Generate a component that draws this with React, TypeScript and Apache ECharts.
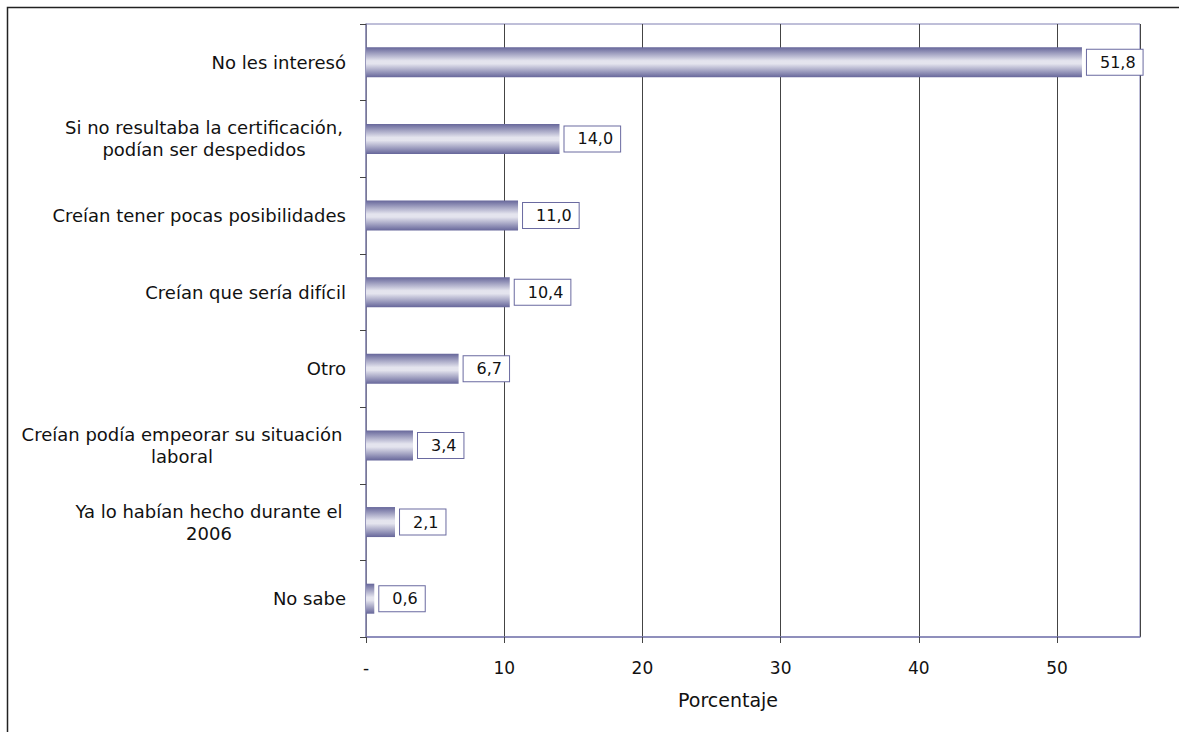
import React, { useEffect, useRef } from "react";
import * as echarts from "echarts";

const categories: string[][] = [
  ["No les interesó"],
  ["Si no resultaba la certificación,", "podían ser despedidos"],
  ["Creían tener pocas posibilidades"],
  ["Creían que sería difícil"],
  ["Otro"],
  ["Creían podía empeorar su situación", "laboral"],
  ["Ya lo habían hecho durante el", "2006"],
  ["No sabe"],
];
const values: number[] = [51.8, 14.0, 11.0, 10.4, 6.7, 3.4, 2.1, 0.6];
const xTickLabels: Record<number, string> = { 0: "-", 10: "10", 20: "20", 30: "30", 40: "40", 50: "50" };
const axisName = "Porcentaje";

// layout only: horizontal centre (px from axis, leftwards) of wrapped labels
const wrappedLabelOffset: Record<number, number> = { 1: 142, 5: 164, 6: 137 };

const FONT = "DejaVu Sans";
const CAT_SIZE = 18;

export default function App() {
  const ref = useRef<HTMLDivElement>(null);
  useEffect(() => {
    document.body.style.margin = "0";
    const chart = echarts.init(ref.current!, undefined, { renderer: "svg" });
    const yData = categories.map((lines, i) => {
      const value = lines.join("\n");
      const off = wrappedLabelOffset[i];
      if (off === undefined) return value;
      return {
        value,
        textStyle: { align: "center", padding: [0, off * 2, 0, 0] },
      };
    });
    chart.setOption({
      animation: false,
      backgroundColor: "#ffffff",
      textStyle: { fontFamily: FONT },
      graphic: [
        {
          type: "rect",
          shape: { x: 7.5, y: 7.5, width: 1200, height: 760 },
          style: { fill: "none", stroke: "#222", lineWidth: 1.5 },
          silent: true,
          z: 100,
        },
      ],
      grid: {
        left: 366,
        top: 24,
        right: 39,
        bottom: 95,
        show: true,
        borderColor: "#7f7fb2",
        borderWidth: 1,
        backgroundColor: "transparent",
      },
      xAxis: {
        type: "value",
        min: 0,
        max: 56,
        interval: 10,
        name: axisName,
        nameLocation: "middle",
        nameGap: 53,
        nameTextStyle: { fontFamily: FONT, fontSize: 19, color: "#111", padding: [0, 50, 0, 0] },
        axisLine: { show: true, lineStyle: { color: "#7f7fb2", width: 1.5 } },
        axisTick: { show: true, length: 6, lineStyle: { color: "#444" } },
        axisLabel: {
          margin: 22,
          fontFamily: FONT,
          fontSize: 17,
          color: "#111",
          showMaxLabel: false,
          formatter: (v: number) => (xTickLabels[v] !== undefined ? xTickLabels[v] : ""),
        },
        splitLine: { show: true, lineStyle: { color: "#444", width: 1 } },
      },
      yAxis: {
        type: "category",
        inverse: true,
        data: yData,
        axisLine: { show: true, lineStyle: { color: "#8a8ab0", width: 1.5 } },
        axisTick: { show: true, length: 6, alignWithLabel: false, lineStyle: { color: "#444" } },
        axisLabel: {
          interval: 0,
          margin: 20,
          fontFamily: FONT,
          fontSize: CAT_SIZE,
          color: "#111",
          lineHeight: 22,
        },
        splitLine: { show: false },
      },
      series: [
        {
          type: "bar",
          data: values,
          barWidth: 30,
          itemStyle: {
            color: new echarts.graphic.LinearGradient(0, 0, 0, 1, [
              { offset: 0, color: "#66669a" },
              { offset: 0.45, color: "#e4e4ee" },
              { offset: 0.55, color: "#e4e4ee" },
              { offset: 1, color: "#66669a" },
            ]),
          },
          label: {
            show: true,
            position: "right",
            distance: 5,
            fontFamily: FONT,
            fontSize: 16,
            lineHeight: 16,
            color: "#111",
            backgroundColor: "#ffffff",
            borderColor: "#6a6aa0",
            borderWidth: 1,
            padding: [5, 7, 4, 13],
            formatter: (p: any) => Number(p.value).toFixed(1).replace(".", ","),
          },
        },
      ],
    });
    return () => chart.dispose();
  }, []);
  return <div ref={ref} style={{ width: 1179, height: 732 }} />;
}
